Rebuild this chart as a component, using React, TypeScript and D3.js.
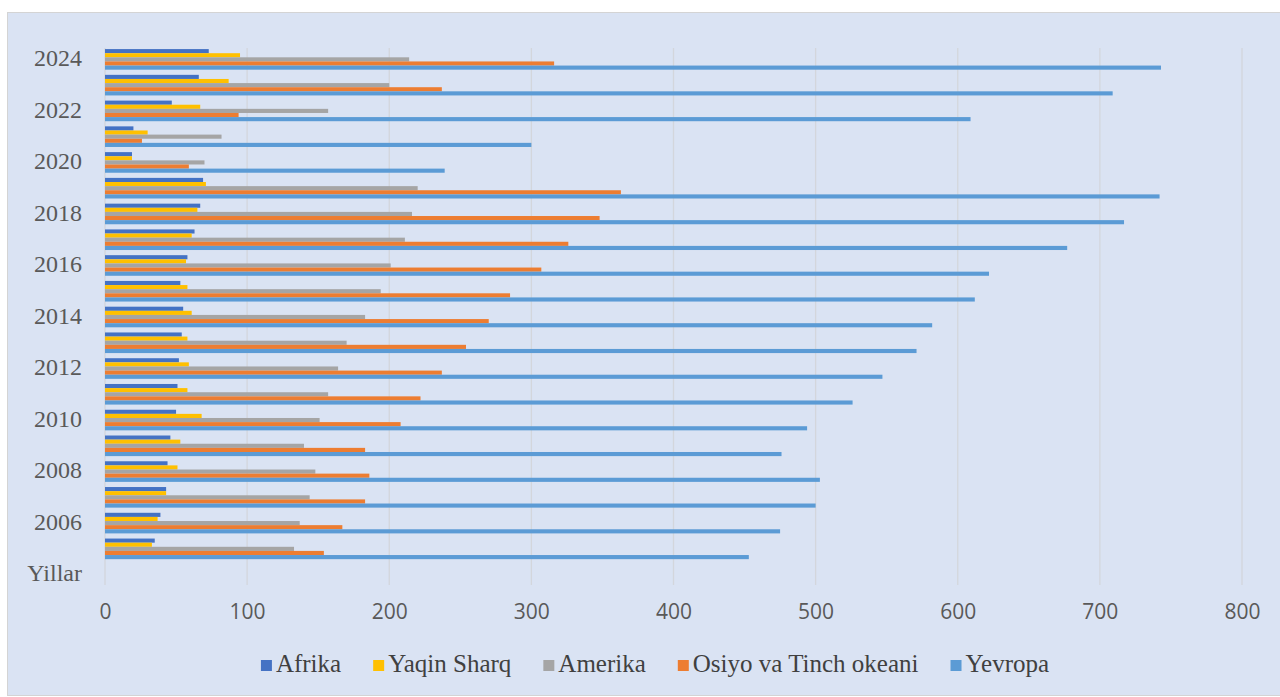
import * as d3 from 'd3';
import { useEffect, useRef } from 'react';

// categories top-to-bottom as drawn (Yillar is the empty bottom row)
const categories = [
  '2024', '2023', '2022', '2021', '2020', '2019', '2018', '2017', '2016', '2015',
  '2014', '2013', '2012', '2011', '2010', '2009', '2008', '2007', '2006', '2005', 'Yillar',
];

const seriesNames = ['Afrika', 'Yaqin Sharq', 'Amerika', 'Osiyo va Tinch okeani', 'Yevropa'];
const seriesColors = ['#4472c4', '#ffc000', '#a5a5a5', '#ed7d31', '#5b9bd5'];

// values listed 2024 -> 2005
const afrika = [73, 66, 47, 20, 19, 69, 67, 63, 58, 53, 55, 54, 52, 51, 50, 46, 44, 43, 39, 35];
const yaqinSharq = [95, 87, 67, 30, 19, 71, 65, 61, 57, 58, 61, 58, 59, 58, 68, 53, 51, 43, 37, 33];
const amerika = [214, 200, 157, 82, 70, 220, 216, 211, 201, 194, 183, 170, 164, 157, 151, 140, 148, 144, 137, 133];
const osiyo = [316, 237, 94, 26, 59, 363, 348, 326, 307, 285, 270, 254, 237, 222, 208, 183, 186, 183, 167, 154];
const yevropa = [743, 709, 609, 300, 239, 742, 717, 677, 622, 612, 582, 571, 547, 526, 494, 476, 503, 500, 475, 453];

const xTicks = [0, 100, 200, 300, 400, 500, 600, 700, 800];

const W = 1280;
const H = 697;

export default function App() {
  const ref = useRef<SVGSVGElement>(null);

  useEffect(() => {
    const svg = d3.select(ref.current);
    svg.selectAll('*').remove();

    const allSeries = [afrika, yaqinSharq, amerika, osiyo, yevropa];

    // background panel
    svg
      .append('rect')
      .attr('x', 7.5)
      .attr('y', 12.5)
      .attr('width', W)
      .attr('height', H - 14)
      .attr('fill', '#dae3f3')
      .attr('stroke', '#d4d4d4')
      .attr('stroke-width', 1);

    const x = d3.scaleLinear().domain([0, 800]).range([105, 1242]);
    const y = d3
      .scaleBand()
      .domain(categories)
      .range([46.5, 587.5])
      .paddingInner(0.2)
      .paddingOuter(0.1);
    const inner = d3.scaleBand().domain(seriesNames).range([0, y.bandwidth()]);

    // gridlines
    svg
      .append('g')
      .selectAll('line')
      .data(xTicks)
      .enter()
      .append('line')
      .attr('x1', (d) => x(d))
      .attr('x2', (d) => x(d))
      .attr('y1', 48)
      .attr('y2', 585)
      .attr('stroke', '#d3d6dc')
      .attr('stroke-width', 1.3);

    // bars
    seriesNames.forEach((name, si) => {
      const vals = allSeries[si];
      svg
        .append('g')
        .selectAll('rect')
        .data(vals)
        .enter()
        .append('rect')
        .attr('x', x(0))
        .attr('y', (_, i) => y(categories[i])! + inner(name)!)
        .attr('width', (d) => x(d) - x(0))
        .attr('height', inner.bandwidth())
        .attr('fill', seriesColors[si]);
    });

    // y axis labels (every other category)
    const yAxis = d3
      .axisLeft(y)
      .tickValues(categories.filter((_, i) => i % 2 === 0))
      .tickSize(0)
      .tickPadding(23);
    const gy = svg.append('g').attr('transform', `translate(${x(0)},-1)`).call(yAxis);
    gy.select('.domain').remove();
    gy.selectAll('text')
      .attr('fill', '#595959')
      .style('font-family', '"Liberation Serif", "Times New Roman", serif')
      .style('font-size', '24px');

    // x axis labels
    const xAxis = d3.axisBottom(x).tickValues(xTicks).tickSize(0).tickPadding(0);
    const gx = svg.append('g').attr('transform', 'translate(0,604)').call(xAxis);
    gx.select('.domain').remove();
    gx.selectAll('text')
      .attr('fill', '#595959')
      .attr('dy', '0.71em')
      .style('font-family', '"Open Sans", "Liberation Sans", sans-serif')
      .style('font-size', '21px');

    // legend
    const legend = svg.append('g');
    const items = legend
      .selectAll('g')
      .data(seriesNames)
      .enter()
      .append('g');
    items
      .append('rect')
      .attr('width', 11)
      .attr('height', 11)
      .attr('y', -12)
      .attr('fill', (_, i) => seriesColors[i]);
    const texts = items
      .append('text')
      .attr('x', 15)
      .attr('fill', '#404040')
      .style('font-family', '"Liberation Serif", "Times New Roman", serif')
      .style('font-size', '25px')
      .text((d) => d);
    const widths: number[] = [];
    texts.each(function () {
      widths.push((this as SVGTextElement).getComputedTextLength() + 15);
    });
    const gap = 32;
    const total = d3.sum(widths) + gap * (widths.length - 1);
    let cx = 655 - total / 2;
    items.attr('transform', (_, i) => {
      const t = `translate(${cx},672)`;
      cx += widths[i] + gap;
      return t;
    });
  }, []);

  return (
    <svg
      ref={ref}
      width={W}
      height={H}
      style={{ position: 'absolute', left: 0, top: 0, background: '#fff', display: 'block' }}
    />
  );
}
